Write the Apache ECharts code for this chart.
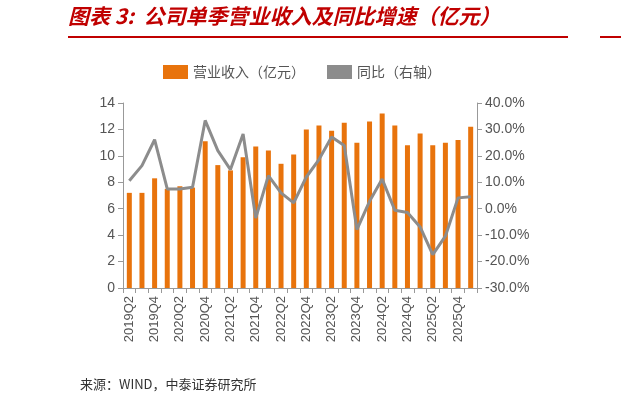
<!DOCTYPE html><html><head><meta charset="utf-8"><script src="https://cdn.jsdelivr.net/npm/echarts@6/dist/echarts.min.js"></script>
<style>body{margin:0;background:#fff}#c{width:621px;height:410px}</style></head><body><div id="c"></div><script>
const categories=['2019Q2','2019Q3','2019Q4','2020Q1','2020Q2','2020Q3','2020Q4','2021Q1','2021Q2','2021Q3','2021Q4','2022Q1','2022Q2','2022Q3','2022Q4','2023Q1','2023Q2','2023Q3','2023Q4','2024Q1','2024Q2','2024Q3','2024Q4','2025Q1','2025Q2','2025Q3','2025Q4','2026Q1'];
const revenue=[7.2,7.2,8.3,7.5,7.7,7.6,11.1,9.3,8.9,9.9,10.7,10.4,9.4,10.1,12.0,12.3,11.9,12.5,11.0,12.6,13.2,12.3,10.8,11.7,10.8,11.0,11.2,12.2];
const yoy=[10.6,16.3,26.1,7.5,7.5,8.1,33.4,22.0,14.8,28.3,-3.5,12.5,6.0,2.2,12.0,18.6,27.1,23.9,-7.9,2.8,11.2,-0.6,-1.4,-6.9,-17.4,-10.4,4.1,4.5];
const c=echarts.init(document.getElementById('c'));
const f='"Noto Sans CJK SC",sans-serif';
c.setOption({animation:false,
graphic:[
{type:'text',left:68,top:6,style:{text:'图表 3:  公司单季营业收入及同比增速（亿元）',fill:'#c00000',font:'italic bold 21px '+f}},
{type:'rect',shape:{x:68,y:36,width:500,height:2},style:{fill:'#c00000'}},
{type:'rect',shape:{x:600,y:36,width:21,height:2},style:{fill:'#c00000'}},
{type:'text',left:80,top:378,style:{text:'来源：WIND，中泰证券研究所',fill:'#333',font:'13px '+f}}],
legend:{top:60,left:158,itemGap:22,textStyle:{fontSize:14,color:'#555',fontFamily:f},data:[{name:'营业收入（亿元）',icon:'rect',itemWidth:40,itemHeight:10},{name:'同比（右轴）',icon:'rect',itemWidth:40,itemHeight:3}]},
grid:{left:123,right:144,top:103,bottom:122},
xAxis:{type:'category',data:categories,axisTick:{show:true,interval:0,lineStyle:{color:'#999'}},axisLine:{lineStyle:{color:'#999'}},axisLabel:{interval:1,rotate:90,color:'#555',fontSize:13,fontFamily:'Arial'}},
yAxis:[{min:0,max:14,interval:2,splitLine:{show:false},axisLine:{show:true,lineStyle:{color:'#999'}},axisTick:{show:true,lineStyle:{color:'#999'}},axisLabel:{color:'#555',fontSize:14,fontFamily:'Arial'}},
{min:-30,max:40,interval:10,splitLine:{show:false},axisLine:{show:true,lineStyle:{color:'#999'}},axisTick:{show:true,lineStyle:{color:'#999'}},axisLabel:{color:'#555',fontSize:14,fontFamily:'Arial',formatter:v=>v.toFixed(1)+'%'}}],
series:[{name:'营业收入（亿元）',type:'bar',data:revenue,barWidth:5,itemStyle:{color:'#e8730c'}},
{name:'同比（右轴）',type:'line',yAxisIndex:1,data:yoy,symbol:'none',lineStyle:{color:'#8c8c8c',width:3},itemStyle:{color:'#8c8c8c'}}]});
</script></body></html>
